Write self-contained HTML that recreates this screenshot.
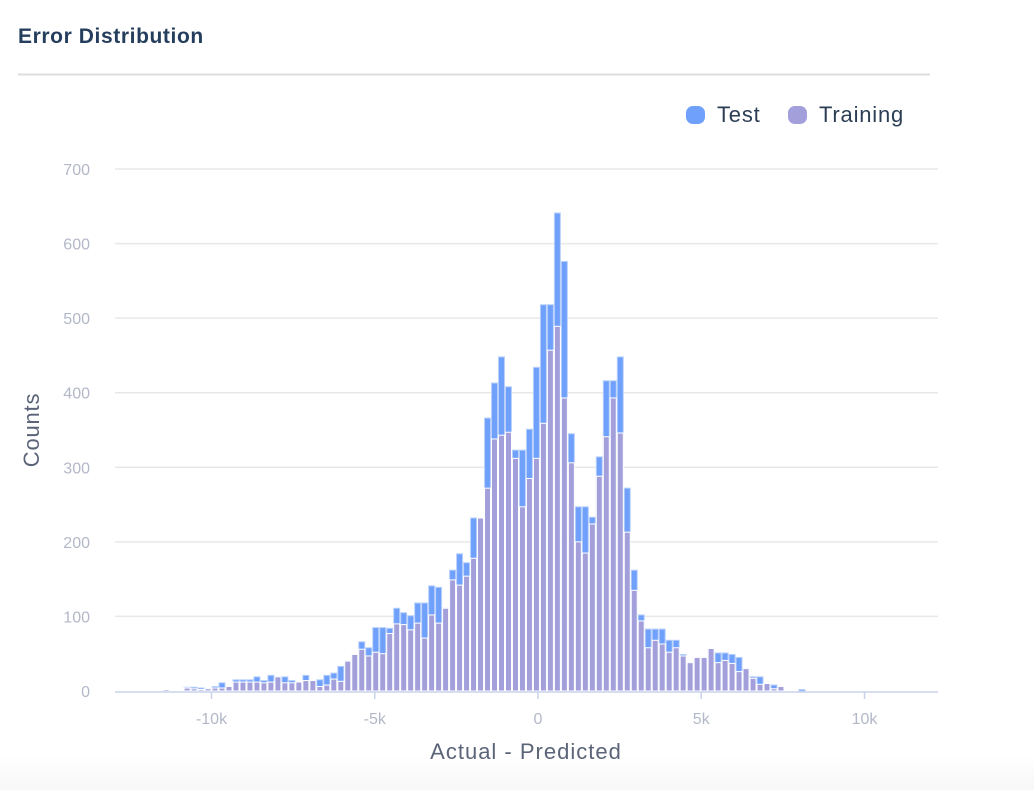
<!DOCTYPE html>
<html><head><meta charset="utf-8">
<style>
body{margin:0;background:#fff;font-family:"Liberation Sans",sans-serif;}
#wrap{position:relative;width:1034px;height:790px;overflow:hidden;background:linear-gradient(to bottom,#fff 0,#fff 755px,#f7f7f7 790px);}
</style></head><body>
<div id="wrap">
<svg id="chart" width="1034" height="790"></svg>
</div>
<script>
const binStart = -11.39; // k, center of first bin
const binWidth = 0.214;  // k
const testCounts = [2,0,0,5,5,4,3,6,11,6,15,15,15,19,14,21,19,19,14,12,21,14,15,21,24,33,40,49,66,58,85,85,84,111,
105,101,118,118,141,139,111,162,184,172,232,232,366,413,448,408,323,323,351,434,
518,518,641,576,345,247,247,233,314,416,416,448,272,162,102,83,83,83,
68,68,49,38,45,45,57,51,51,49,45,30,19,19,10,8,6,0,0,2];
const trainCounts = [2,0,0,4,3,2,3,4,4,6,12,12,12,12,11,12,19,11,11,12,14,14,6,8,16,13,40,49,56,47,52,50,77,90,
89,82,91,71,102,91,111,149,142,154,178,232,272,338,343,347,312,247,285,312,
359,457,489,393,306,200,185,224,288,341,393,346,213,135,94,58,68,63,
52,58,47,38,45,45,57,38,41,37,26,30,17,9,10,3,6,0,0,0];
const yTicks = [0,100,200,300,400,500,600,700];
const xTicks = [-10,-5,0,5,10];
const xTickLabels = ["-10k","-5k","0","5k","10k"];

const NS="http://www.w3.org/2000/svg";
const svg=document.getElementById('chart');
const L=115,R=938,Y0=691,Y700=169;
const xs=k=>538+k*32.65;
const ys=v=>Y0-(v/700)*(Y0-Y700);
function mk(tag,attrs,parent){const e=document.createElementNS(NS,tag);for(const k in attrs)e.setAttribute(k,attrs[k]);(parent||svg).appendChild(e);return e;}

let t=mk('text',{x:18,y:43,'font-size':21,'font-weight':'bold',fill:'#253e5e','letter-spacing':'0.6'});t.textContent='Error Distribution';


let hr=mk('line',{x1:18,x2:930,y1:74.5,y2:74.5,stroke:'#dcdcdc','stroke-width':2});



// legend
let lg=mk('g',{});


let e1=mk('g',{},lg);


mk('rect',{x:686,y:106,width:19,height:18,rx:7,fill:'#6fa1fc'},e1);
let lt=mk('text',{x:717,y:122,'font-size':22,fill:'#2c3e56','letter-spacing':'0.8'},e1);lt.textContent='Test';
let e2=mk('g',{},lg);


mk('rect',{x:788,y:106,width:19,height:18,rx:7,fill:'#a29fda'},e2);
let lt2=mk('text',{x:819,y:122,'font-size':22,fill:'#2c3e56','letter-spacing':'0.8'},e2);lt2.textContent='Training';

// grid + y ticks
yTicks.forEach(v=>{
  if(v>0){let g=mk('line',{x1:L,x2:R,y1:ys(v),y2:ys(v),stroke:'#e8e8e8','stroke-width':1.5});
  
  }
  let tx=mk('text',{x:90,y:ys(v)+6,'font-size':16,fill:'#b3b8c8','text-anchor':'end'});tx.textContent=v;
  
  
});

// bars
function bars(arr,fill,stroke,name){
  const g=mk('g',{});
  
  
  arr.forEach((v,i)=>{
    if(v<=0)return;
    const c=binStart+i*binWidth;
    const x0=xs(c-binWidth/2),x1=xs(c+binWidth/2);
    const r=mk('rect',{x:x0+0.5,y:ys(v),width:x1-x0-1,height:Y0-ys(v),fill:fill,stroke:stroke,'stroke-width':1},g);
    
    
  });
}
bars(testCounts,'#6fa1fc','#b9d0fb','test-bars');
bars(trainCounts,'#a29fda','#ffffff','training-bars');

// x axis
let ax=mk('line',{x1:L,x2:R,y1:Y0+1,y2:Y0+1,stroke:'#c8d3ea','stroke-width':1.5});


xTicks.forEach((k,i)=>{
  let tk=mk('line',{x1:xs(k),x2:xs(k),y1:Y0+1,y2:Y0+8,stroke:'#c8d3ea','stroke-width':1.5});
  
  
  let tx=mk('text',{x:xs(k),y:724,'font-size':16,fill:'#b3b8c8','text-anchor':'middle'});tx.textContent=xTickLabels[i];
  
  
});
let xt=mk('text',{x:526,y:759,'font-size':22,fill:'#5b6478','text-anchor':'middle','letter-spacing':'1'});xt.textContent='Actual - Predicted';


let yt=mk('text',{x:0,y:0,'font-size':22,fill:'#5b6478','text-anchor':'middle','letter-spacing':'0.8',transform:'translate(39,430) rotate(-90)'});yt.textContent='Counts';


</script>
</body></html>
